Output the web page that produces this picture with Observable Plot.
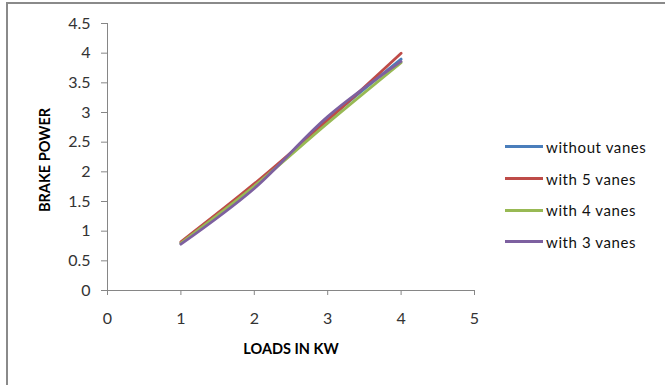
<!DOCTYPE html>
<html>
<head>
<meta charset="utf-8">
<script src="https://cdn.jsdelivr.net/npm/d3@7"></script>
<script src="https://cdn.jsdelivr.net/npm/@observablehq/plot@0.6"></script>
<style>
  html, body { margin: 0; padding: 0; background: #fff; }
  #wrap { position: relative; width: 665px; height: 385px; overflow: hidden; }
  #frame { position: absolute; left: 6px; top: 2px; width: 700px; height: 420px; border-left: 2px solid #8a8a8a; border-top: 2px solid #8a8a8a; box-sizing: border-box; pointer-events: none; }
  #legend { position: absolute; left: 505px; top: 131px; font-family: Lato, "Open Sans", sans-serif; font-size: 15px; letter-spacing: 0.6px; color: #111; }
  .row { display: flex; align-items: center; height: 31.7px; }
  .sw { width: 38px; height: 3px; margin-right: 3px; }
</style>
</head>
<body>
<div id="wrap">
  <div id="chart"></div>
  <div id="frame"></div>
  <div id="legend"></div>
</div>
<script>
const loads = [1, 2, 3, 4];
const seriesNames = ["without vanes", "with 5 vanes", "with 4 vanes", "with 3 vanes"];
const withoutVanes = [0.80, 1.76, 2.88, 3.90];
const with5Vanes   = [0.82, 1.80, 2.87, 4.00];
const with4Vanes   = [0.80, 1.76, 2.82, 3.84];
const with3Vanes   = [0.78, 1.72, 2.93, 3.86];
const colors = ["#4A7EBB", "#BE4B48", "#98B954", "#7D60A0"];
const xTicks = [0, 1, 2, 3, 4, 5];
const yTicks = [0, 0.5, 1, 1.5, 2, 2.5, 3, 3.5, 4, 4.5];

const values = [withoutVanes, with5Vanes, with4Vanes, with3Vanes];
const data = [];
values.forEach((arr, i) => arr.forEach((v, j) => data.push({series: seriesNames[i], load: loads[j], bp: v})));

const font = "Lato, 'Open Sans', sans-serif";
const chart = Plot.plot({
  width: 665,
  height: 385,
  marginLeft: 107,
  marginRight: 191,
  marginTop: 23,
  marginBottom: 95,
  style: {fontFamily: font, fontSize: "16px", color: "#222", background: "transparent"},
  x: {domain: [0, 5]},
  y: {domain: [0, 4.5]},
  color: {domain: seriesNames, range: colors},
  marks: [
    Plot.ruleY([0], {stroke: "#868686", strokeWidth: 1}),
    Plot.ruleX([0], {stroke: "#868686", strokeWidth: 1}),
    Plot.axisX({ticks: xTicks, tickSize: 5, tickPadding: 17, stroke: "#868686", fill: "#333", fontSize: 16, tickFormat: d => String(d), label: null}),
    Plot.axisY({ticks: yTicks, tickSize: 6, tickPadding: 11, stroke: "#868686", fill: "#333", fontSize: 16, tickFormat: d => String(d), label: null}),
    Plot.line(data, {x: "load", y: "bp", z: "series", stroke: "series", strokeWidth: 2.8, curve: "catmull-rom"}),
    Plot.text(["LOADS IN KW"], {frameAnchor: "bottom", dy: 63, text: d => d, fontWeight: "bold", fontSize: 14.5, fill: "#000", textAnchor: "middle"}),
    Plot.text(["BRAKE POWER"], {frameAnchor: "left", dx: -62, dy: 3, rotate: -90, textAnchor: "middle", text: d => d, fontWeight: "bold", fontSize: 14.5, fill: "#000"})
  ]
});
document.getElementById("chart").appendChild(chart);

const legend = document.getElementById("legend");
seriesNames.forEach((name, i) => {
  const row = document.createElement("div");
  row.className = "row";
  const sw = document.createElement("div");
  sw.className = "sw";
  sw.style.background = colors[i];
  const t = document.createElement("span");
  t.textContent = name;
  row.appendChild(sw);
  row.appendChild(t);
  legend.appendChild(row);
});
</script>
</body>
</html>
